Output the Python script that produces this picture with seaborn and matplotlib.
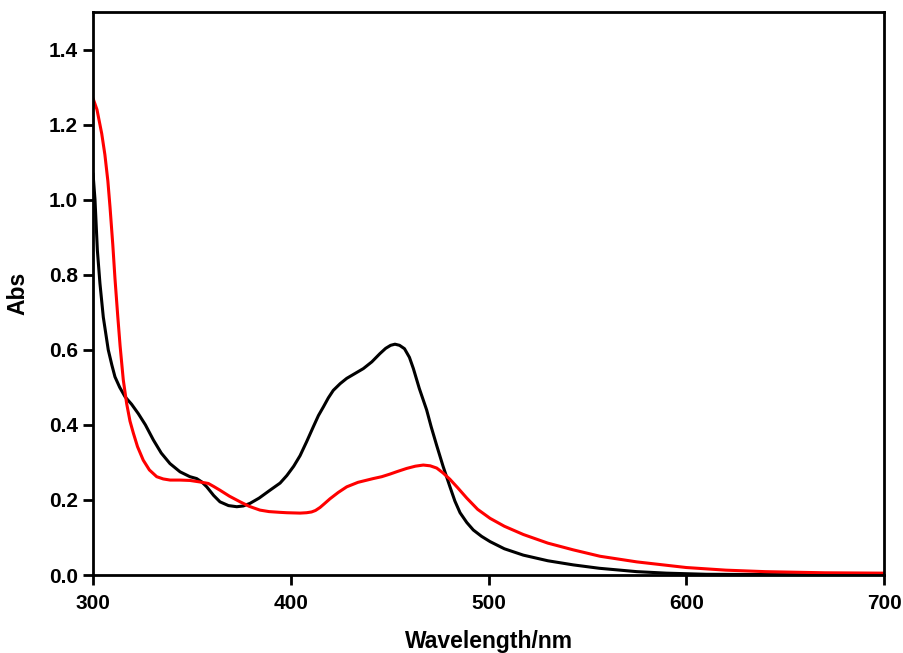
import numpy as np
import pandas as pd
import matplotlib
matplotlib.use("Agg")
import matplotlib.pyplot as plt
import seaborn as sns

# Black spectrum
black_x = [300, 301, 302.2, 303.5, 305.2, 307.7, 309.5, 311.1, 313.5, 316.2, 319.5, 322.9, 326.5,
           330.5, 334.5, 338.9, 344, 349, 352.4, 355, 357.5, 361, 364.2, 368.5, 372.7, 376, 379.4,
           384, 389.5, 394.6, 398, 401.5, 404.7, 408, 411.4, 414, 416.5, 419, 421.5, 425, 428.3,
           432.5, 436.7, 441, 445.1, 448, 450.5, 452.7, 455, 457.5, 460, 462, 465, 468.7, 471,
           473.8, 477, 480.5, 483, 485.6, 489, 492.3, 496.5, 500.8, 508, 517.6, 530, 542.9, 556,
           575, 590, 610, 650, 700]
black_y = [1.07, 1.0, 0.865, 0.777, 0.687, 0.60, 0.56, 0.528, 0.50, 0.475, 0.455, 0.43, 0.40,
           0.36, 0.325, 0.297, 0.275, 0.262, 0.257, 0.248, 0.235, 0.212, 0.195, 0.185, 0.182, 0.184,
           0.191, 0.205, 0.226, 0.245, 0.265, 0.29, 0.318, 0.355, 0.395, 0.425, 0.448, 0.472,
           0.492, 0.51, 0.524, 0.537, 0.55, 0.568, 0.59, 0.604, 0.612, 0.615, 0.612, 0.603, 0.58,
           0.55, 0.497, 0.44, 0.395, 0.345, 0.29, 0.235, 0.197, 0.166, 0.14, 0.12, 0.103, 0.089,
           0.07, 0.053, 0.038, 0.027, 0.018, 0.009, 0.005, 0.002, 0.001, 0.0]

# Red spectrum
red_x = [300, 302, 304.4, 306, 307.5, 308.6, 310, 311.1, 312.5, 313.7, 315.3, 317, 318.7, 320.4,
         322.5, 325.4, 328.5, 332.2, 335.5, 339, 344, 349, 354, 358.3, 361, 364.2, 369, 374.4,
         379, 384.4, 389, 394.6, 398, 404.7, 408, 410.5, 412.5, 414.8, 417, 419.8, 424, 428.3,
         434, 441.7, 446, 450.2, 454, 458.6, 463, 467, 470.5, 473.8, 477, 480.5, 484.5, 489,
         494.5, 500.8, 508, 517.6, 530, 542.9, 556.4, 575, 600, 620, 640, 670, 700]
red_y = [1.27, 1.24, 1.176, 1.12, 1.05, 0.98, 0.88, 0.79, 0.69, 0.61, 0.52, 0.457, 0.41, 0.378,
         0.342, 0.306, 0.28, 0.262, 0.256, 0.253, 0.253, 0.252, 0.248, 0.244, 0.236, 0.226, 0.21,
         0.195, 0.183, 0.173, 0.169, 0.167, 0.166, 0.165, 0.166, 0.168, 0.172, 0.18, 0.19, 0.203,
         0.22, 0.235, 0.247, 0.257, 0.262, 0.269, 0.276, 0.284, 0.29, 0.293, 0.291, 0.285, 0.272,
         0.255, 0.232, 0.205, 0.175, 0.151, 0.13, 0.108, 0.085, 0.067, 0.05, 0.035, 0.02,
         0.013, 0.009, 0.006, 0.005]

xticks = [300, 400, 500, 600, 700]
yticks = [0.0, 0.2, 0.4, 0.6, 0.8, 1.0, 1.2, 1.4]

df = pd.concat([
    pd.DataFrame({"Wavelength": black_x, "Abs": black_y, "series": "black"}),
    pd.DataFrame({"Wavelength": red_x, "Abs": red_y, "series": "red"}),
])

sns.set_style("ticks")
plt.rcParams['font.family'] = ['Liberation Sans', 'DejaVu Sans']
plt.rcParams['text.color'] = 'black'
plt.rcParams['xtick.color'] = 'black'
plt.rcParams['ytick.color'] = 'black'
plt.rcParams['axes.labelcolor'] = 'black'

fig = plt.figure(figsize=(9.04, 6.53), dpi=100)
ax = fig.add_axes([0.1029, 0.1194, 0.8750, 0.8622])

sns.lineplot(data=df, x="Wavelength", y="Abs", hue="series",
             palette={"black": "#000000", "red": "#ff0000"},
             linewidth=2.2, ax=ax, legend=False, sort=False)

ax.set_xlim(300, 700)
ax.set_ylim(0, 1.5)
ax.set_xticks(xticks)
ax.set_yticks(yticks)
ax.set_xticklabels([str(t) for t in xticks])
ax.set_yticklabels([f"{t:.1f}" for t in yticks])
ax.tick_params(axis='both', direction='out', length=7, width=2, labelsize=15,
               top=False, right=False, colors='black')
ax.tick_params(axis='x', pad=7)
ax.tick_params(axis='y', pad=4)
for lab in ax.get_xticklabels() + ax.get_yticklabels():
    lab.set_fontweight('bold')
for sp in ax.spines.values():
    sp.set_visible(True)
    sp.set_linewidth(2)
    sp.set_color('black')

ax.set_xlabel("Wavelength/nm", fontsize=16.5, fontweight='bold', labelpad=12, color='black')
ax.set_ylabel("Abs", fontsize=16.5, fontweight='bold', labelpad=14, color='black')

fig.savefig("out.png", dpi=100)
